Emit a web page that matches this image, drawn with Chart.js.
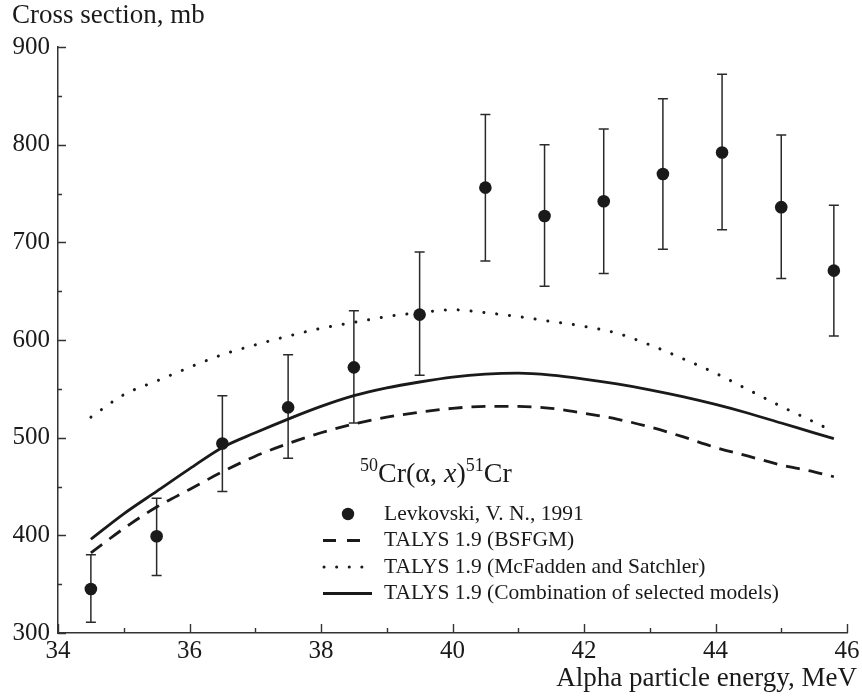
<!DOCTYPE html>
<html><head><meta charset="utf-8">
<script src="https://cdn.jsdelivr.net/npm/chart.js@4/dist/chart.umd.min.js"></script>
<style>html,body{margin:0;padding:0;background:#fff;}#wrap{width:862px;height:698px;}</style>
</head><body><div id="wrap"><canvas id="c" width="862" height="698"></canvas></div>
<script>
// ---- data ----
const expEnergy  = [34.5, 35.5, 36.5, 37.5, 38.5, 39.5, 40.5, 41.4, 42.3, 43.2, 44.1, 45.0, 45.8];
const expXs      = [345, 399, 494, 531, 572, 626, 756, 727, 742, 770, 792, 736, 671];
const expErrLow  = [311, 359, 445, 479, 515, 564, 681, 655, 668, 693, 713, 663, 604];
const expErrHigh = [380, 438, 543, 585, 630, 690, 831, 800, 816, 847, 872, 810, 738];

const theoryEnergy = [34.5, 35, 35.5, 36, 36.5, 37, 37.5, 38, 38.5, 39, 39.5, 40, 40.5, 41, 41.5, 42, 42.5, 43, 43.5, 44, 44.5, 45, 45.5, 45.8];
const bsfgmXs      = [382, 407, 429, 447, 465, 481, 494, 505, 514, 521, 526, 530, 532, 532, 530, 525, 519, 511, 501, 490, 481, 472, 465, 460];
const mcfaddenXs   = [521, 544, 558, 572, 585, 595, 604, 612, 618, 624, 628, 631, 628, 624, 619, 614, 607, 595, 581, 566, 549, 532, 516, 506];
const combinedXs   = [396, 422, 445, 468, 490, 505, 519, 532, 543, 551, 557, 562, 565, 566, 564, 560, 555, 549, 542, 534, 525, 515, 505, 499];

const xMin = 34, xMax = 46, xStep = 1, xLabelEvery = 2;
const yMin = 300, yMax = 900, yStep = 50, yLabelEvery = 100;

const yTitle = 'Cross section, mb';
const xTitle = 'Alpha particle energy, MeV';
const legendLabels = ['Levkovski, V. N., 1991', 'TALYS 1.9 (BSFGM)', 'TALYS 1.9 (McFadden and Satchler)', 'TALYS 1.9 (Combination of selected models)'];

// ---- styling ----
const INK = '#1a1a1a';
const FONT = '"Liberation Serif", "Times New Roman", serif';

const pts = (xs, ys) => xs.map((x, i) => ({x, y: ys[i]}));

const errorBarPlugin = {
  id: 'errorBars',
  beforeDatasetsDraw(chart) {
    const {ctx, scales: {x, y}} = chart;
    ctx.save();
    ctx.strokeStyle = '#2a2a2a';
    ctx.lineWidth = 1.5;
    expEnergy.forEach((e, i) => {
      const px = x.getPixelForValue(e);
      const lo = y.getPixelForValue(expErrLow[i]);
      const hi = y.getPixelForValue(expErrHigh[i]);
      ctx.beginPath();
      ctx.moveTo(px, lo); ctx.lineTo(px, hi);
      ctx.moveTo(px - 5, lo); ctx.lineTo(px + 5, lo);
      ctx.moveTo(px - 5, hi); ctx.lineTo(px + 5, hi);
      ctx.stroke();
    });
    ctx.restore();
  }
};

const inwardTicksPlugin = {
  id: 'inwardTicks',
  afterDraw(chart) {
    const {ctx, chartArea: a, scales: {x, y}} = chart;
    ctx.save();
    ctx.strokeStyle = '#333';
    ctx.lineWidth = 1.4;
    ctx.beginPath();
    x.ticks.forEach(t => {
      const px = Math.round(x.getPixelForValue(t.value)) + 0.5;
      const len = (t.value % xLabelEvery === 0) ? 9 : 5;
      ctx.moveTo(px, a.bottom); ctx.lineTo(px, a.bottom - len);
    });
    y.ticks.forEach(t => {
      const py = Math.round(y.getPixelForValue(t.value)) + 0.5;
      const len = (t.value % yLabelEvery === 0) ? 8 : 4;
      ctx.moveTo(a.left, py); ctx.lineTo(a.left + len, py);
    });
    ctx.stroke();
    ctx.restore();
  }
};

const textPlugin = {
  id: 'texts',
  afterDraw(chart) {
    const {ctx} = chart;
    ctx.save();
    ctx.fillStyle = INK;
    ctx.textBaseline = 'middle';
    // axis titles
    ctx.font = '27px ' + FONT;
    ctx.textAlign = 'left';
    ctx.fillText(yTitle, 12, 16);
    ctx.textAlign = 'right';
    ctx.fillText(xTitle, 857, 679);

    // legend title: 50Cr(α, x)51Cr
    ctx.textAlign = 'left';
    ctx.textBaseline = 'alphabetic';
    let tx = 360; const base = 482;
    const main = '28px ' + FONT, sup = '18px ' + FONT, ital = 'italic 28px ' + FONT;
    const piece = (s, f, dy) => { ctx.font = f; ctx.fillText(s, tx, base + dy); tx += ctx.measureText(s).width; };
    piece('50', sup, -11);
    piece('Cr(α, ', main, 0);
    piece('x', ital, 0);
    piece(')', main, 0);
    piece('51', sup, -11);
    piece('Cr', main, 0);

    // legend entries
    ctx.textBaseline = 'middle';
    ctx.font = '21.5px ' + FONT;
    const rows = [514, 540.5, 567, 593.5];
    const textX = 384;
    legendLabels.forEach((lab, i) => ctx.fillText(lab, textX, rows[i]));
    // marker
    ctx.beginPath(); ctx.arc(348, rows[0], 6.2, 0, Math.PI * 2); ctx.fill();
    ctx.strokeStyle = INK; ctx.lineWidth = 2.8;
    // dashed
    ctx.setLineDash([13, 11]);
    ctx.beginPath(); ctx.moveTo(323, rows[1]); ctx.lineTo(360, rows[1]); ctx.stroke();
    // dotted
    ctx.setLineDash([0.1, 12.5]); ctx.lineCap = 'round'; ctx.lineWidth = 3;
    ctx.beginPath(); ctx.moveTo(324, rows[2]); ctx.lineTo(372, rows[2]); ctx.stroke();
    // solid
    ctx.setLineDash([]); ctx.lineCap = 'butt'; ctx.lineWidth = 2.8;
    ctx.beginPath(); ctx.moveTo(323, rows[3]); ctx.lineTo(372, rows[3]); ctx.stroke();
    ctx.restore();
  }
};

new Chart(document.getElementById('c'), {
  type: 'line',
  data: {
    datasets: [
      { type: 'scatter', label: legendLabels[0], data: pts(expEnergy, expXs),
        pointRadius: 6.3, pointBackgroundColor: INK, pointBorderColor: INK, pointBorderWidth: 0, showLine: false, order: 0 },
      { label: legendLabels[1], data: pts(theoryEnergy, bsfgmXs), borderColor: INK, borderWidth: 2.8,
        borderDash: [14, 9], pointRadius: 0, cubicInterpolationMode: 'monotone', fill: false, order: 1 },
      { label: legendLabels[2], data: pts(theoryEnergy, mcfaddenXs), borderColor: INK, borderWidth: 3,
        borderDash: [0.1, 12.8], borderCapStyle: 'round', pointRadius: 0, cubicInterpolationMode: 'monotone', fill: false, order: 2 },
      { label: legendLabels[3], data: pts(theoryEnergy, combinedXs), borderColor: INK, borderWidth: 2.8,
        pointRadius: 0, cubicInterpolationMode: 'monotone', fill: false, order: 3 }
    ]
  },
  options: {
    responsive: false,
    devicePixelRatio: 1,
    animation: false,
    layout: { padding: { top: 47, right: 15, bottom: 0, left: 0 } },
    plugins: { legend: { display: false }, tooltip: { enabled: false }, title: { display: false } },
    scales: {
      x: {
        type: 'linear', min: xMin, max: xMax,
        grid: { display: false, drawTicks: false },
        border: { display: true, color: '#333', width: 1.5 },
        ticks: { stepSize: xStep, autoSkip: false, maxRotation: 0, padding: 3, color: INK,
          font: { family: FONT, size: 25 },
          callback: v => (v % xLabelEvery === 0 ? String(v) : '') },
        afterFit(s) { s.height = 65; s.paddingLeft = 0; s.paddingRight = 0; }
      },
      y: {
        type: 'linear', min: yMin, max: yMax,
        grid: { display: false, drawTicks: false },
        border: { display: true, color: '#333', width: 1.5 },
        ticks: { stepSize: yStep, autoSkip: false, padding: 8, color: INK,
          font: { family: FONT, size: 25 },
          callback: v => (v % yLabelEvery === 0 ? String(v) : '') },
        afterFit(s) { s.width = 58; s.paddingTop = 0; s.paddingBottom = 0; }
      }
    }
  },
  plugins: [errorBarPlugin, inwardTicksPlugin, textPlugin]
});
</script>
</body></html>
